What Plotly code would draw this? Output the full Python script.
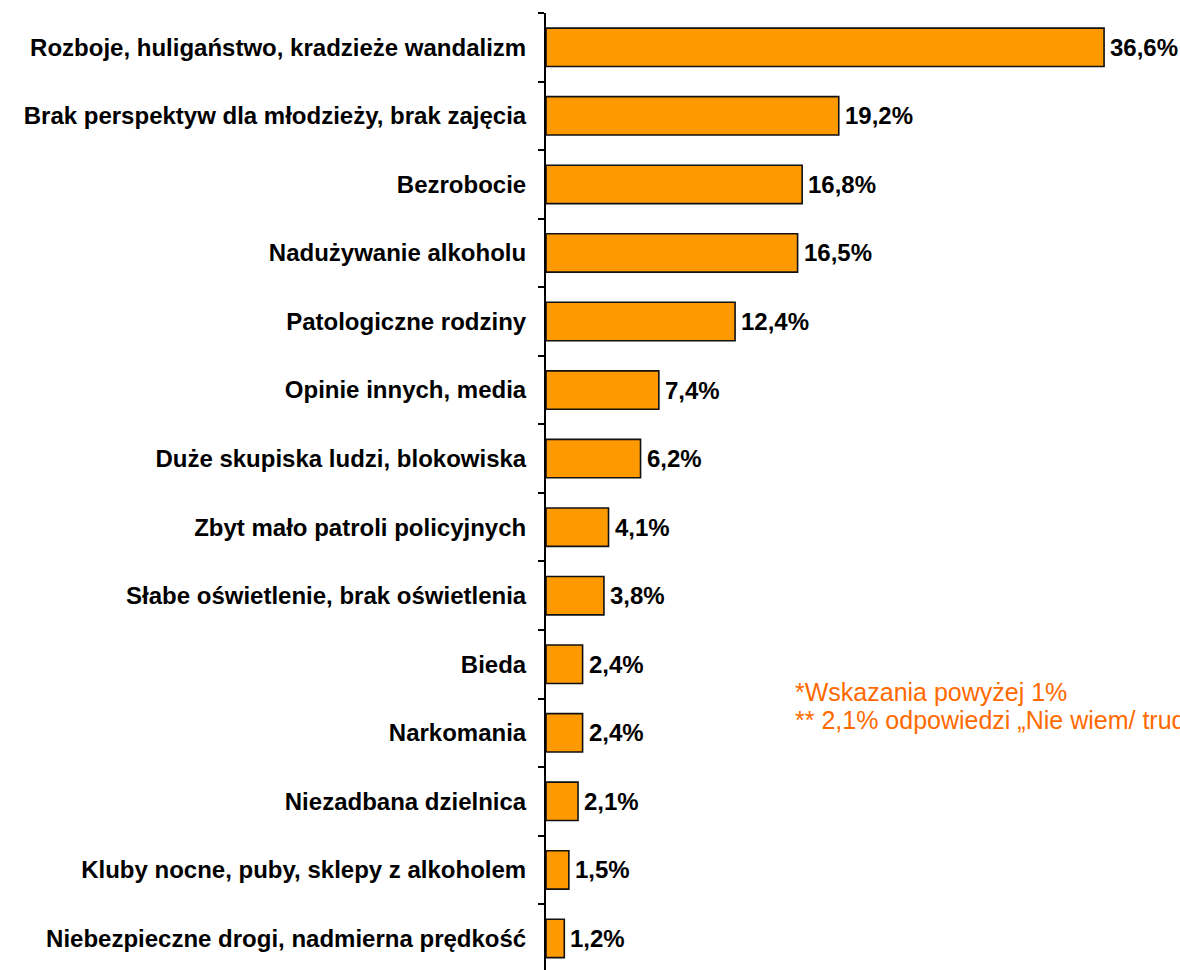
import plotly.graph_objects as go

categories = [
    "Rozboje, huligaństwo, kradzieże wandalizm",
    "Brak perspektyw dla młodzieży, brak zajęcia",
    "Bezrobocie",
    "Nadużywanie alkoholu",
    "Patologiczne rodziny",
    "Opinie innych, media",
    "Duże skupiska ludzi, blokowiska",
    "Zbyt mało patroli policyjnych",
    "Słabe oświetlenie, brak oświetlenia",
    "Bieda",
    "Narkomania",
    "Niezadbana dzielnica",
    "Kluby nocne, puby, sklepy z alkoholem",
    "Niebezpieczne drogi, nadmierna prędkość",
]
values = [36.6, 19.2, 16.8, 16.5, 12.4, 7.4, 6.2, 4.1, 3.8, 2.4, 2.4, 2.1, 1.5, 1.2]
value_labels = [f"{v:.1f}%".replace(".", ",") for v in values]

note_lines = [
    "*Wskazania powyżej 1%",
    "** 2,1% odpowiedzi „Nie wiem/ trudno powiedzieć”",
]

FONT = "Liberation Sans, Arial, sans-serif"
PLOT_LEFT, PLOT_TOP, PLOT_H = 546, 13, 957

fig = go.Figure(
    go.Bar(
        y=categories,
        x=values,
        orientation="h",
        cliponaxis=False,
        marker=dict(color="#FF9900", line=dict(color="#111111", width=1.6)),
        width=0.56,
        hoverinfo="x+y",
    )
)

# value labels just right of each bar end
annotations = [
    dict(
        x=v,
        y=c,
        xref="x",
        yref="y",
        text=t,
        xanchor="left",
        yanchor="middle",
        xshift=4,
        showarrow=False,
        font=dict(family=FONT, size=24, color="black", weight="bold"),
    )
    for c, v, t in zip(categories, values, value_labels)
]

# footnotes in the lower right
for i, line in enumerate(note_lines):
    annotations.append(
        dict(
            text=line,
            xref="paper",
            yref="paper",
            x=(793 - PLOT_LEFT) / (1180 - PLOT_LEFT),
            y=(PLOT_TOP + PLOT_H - (692 + 28 * i)) / PLOT_H,
            xanchor="left",
            yanchor="middle",
            align="left",
            showarrow=False,
            font=dict(family=FONT, size=25, color="#FF6A00"),
        )
    )

fig.update_layout(
    width=1180,
    height=970,
    margin=dict(l=PLOT_LEFT, r=0, t=PLOT_TOP, b=0),
    plot_bgcolor="white",
    paper_bgcolor="white",
    showlegend=False,
    xaxis=dict(
        range=[0, 41.58],
        visible=False,
    ),
    yaxis=dict(
        type="category",
        categoryorder="array",
        categoryarray=categories,
        range=[13.46, -0.5],
        showline=True,
        linecolor="black",
        linewidth=2,
        ticks="outside",
        tickson="boundaries",
        ticklen=6,
        tickcolor="black",
        tickwidth=1.5,
        ticklabelstandoff=13,
        showgrid=False,
        tickfont=dict(family=FONT, size=24, color="black", weight="bold"),
    ),
    annotations=annotations,
)

fig.write_html("out.html")
